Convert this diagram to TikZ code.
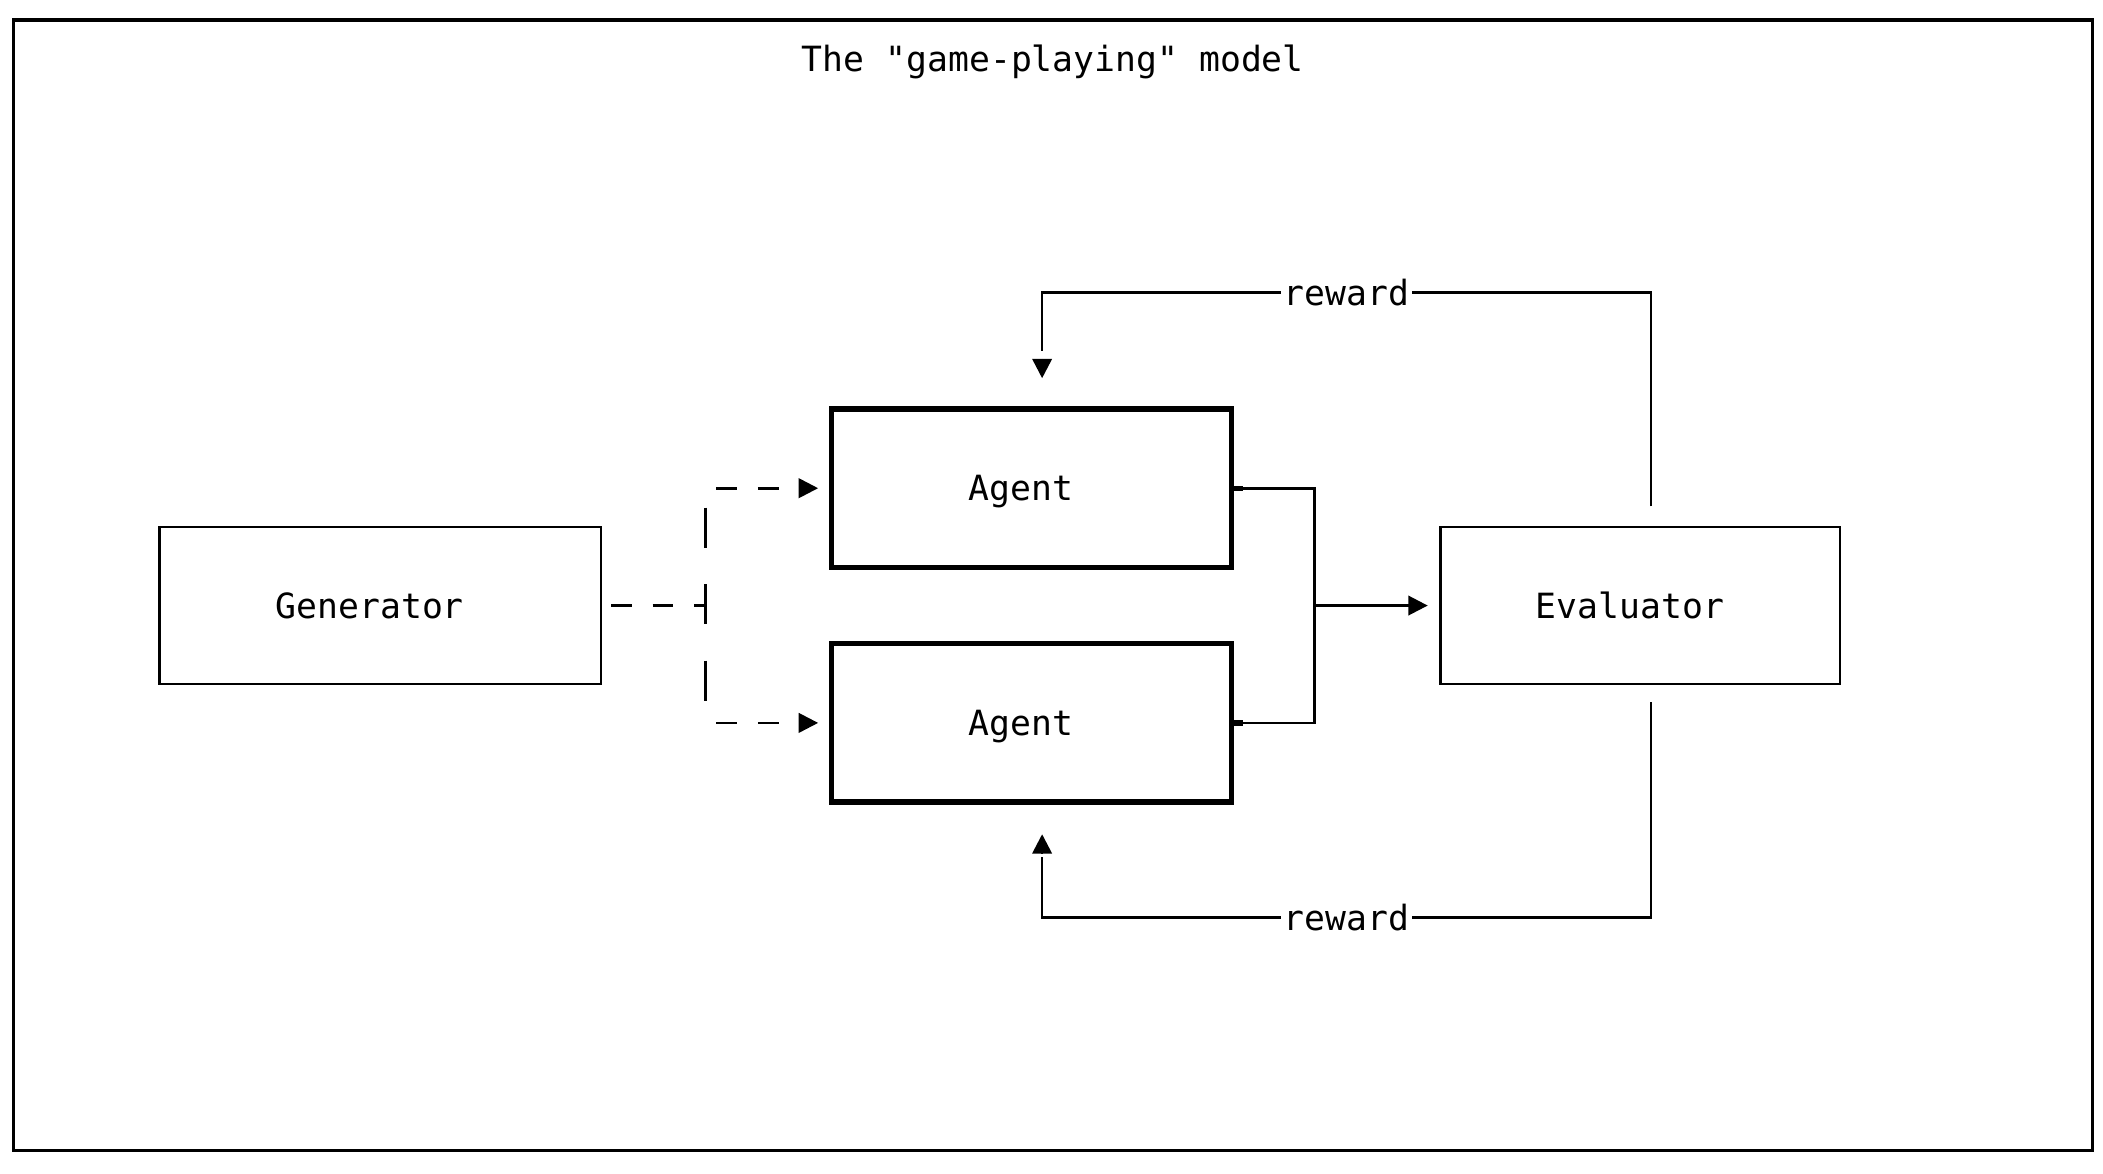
\documentclass[tikz,border=0pt]{standalone}
\usepackage{fontspec}
\setmonofont{DejaVu Sans Mono}
\usetikzlibrary{arrows.meta,calc}
\tikzset{
  txt/.style={font=\ttfamily\fontsize{25.9pt}{30pt}\selectfont, text height=18.9pt, text depth=0pt},
  box/.style={draw, line width=2pt, minimum width=298pt, minimum height=117pt, inner sep=0pt, txt},
  agentbox/.style={box, line width=4pt, minimum height=118pt},
  conn/.style={line width=2pt},
  dashh/.style={conn, dash pattern=on 15.5pt off 15.5pt},
  dashv/.style={conn, dash pattern=on 30pt off 27pt},
  arrowhd/.style={-{Triangle[length=14.5pt,width=14.5pt]}},
  lbl/.style={fill=white, inner xsep=2pt, inner ysep=0pt, txt},
  nub/.style={line width=4pt},
  framebox/.style={draw, line width=2.5pt}
}
\begin{document}
\begin{tikzpicture}[x=1pt,y=-1pt]
\useasboundingbox (0,0) rectangle (1568,874.6);
\draw[framebox] (10,15) rectangle (1560,858);
\node[txt] (title) at (785,43.5) {The "game-playing" model};

\node[box, minimum width=329pt] (gen) at (283.5,451.5) {Generator\phantom{x}};
\node[agentbox] (a1) at (769,364) {Agent\phantom{x}};
\node[agentbox] (a2) at (769,539) {Agent\phantom{x}};
\node[box] (ev) at (1223,451.5) {Evaluator\phantom{x}};

% dashed split from generator
\coordinate (g0) at ($(gen.east)+(6.6,0)$);
\coordinate (j) at (526,451.5);
\coordinate (jt) at (526,378.5);
\coordinate (jb) at (526,522.5);
\coordinate (u0) at (534,364);
\coordinate (l0) at (534,539);
\draw[dashh] (g0) -- (j);
\draw[dashv] (jt) -- (jb);
\draw[dashh, arrowhd] (u0) -- ($(a1.west)+(-8,0)$);
\draw[dashh, arrowhd] (l0) -- ($(a2.west)+(-8,0)$);

% agents to evaluator
\coordinate (m1) at (980,364);
\coordinate (m2) at (980,539);
\coordinate (bus) at (980,451.5);
\draw[conn] (a1.east) -- (m1) -- (m2) -- (a2.east);
\draw[nub] (a1.east) -- ++(7,0);
\draw[nub] (a2.east) -- ++(7,0);
\draw[conn, arrowhd] (bus) -- ($(ev.west)+(-8.5,0)$);

% top reward
\coordinate (rt0) at ($(ev.north)+(8,-14.5)$);
\coordinate (rt1) at (1231,218);
\coordinate (rt2) at (777,218);
\coordinate (rt3) at (777,262);
\coordinate (rt4) at ($(a1.north)+(8,-35.5)$);
\coordinate (rt5) at ($(a1.north)+(8,-21)$);
\draw[conn] (rt0) -- (rt1) -- node[lbl] (rwt) {reward} (rt2) -- (rt3);
\draw[conn, arrowhd] (rt4) -- (rt5);

% bottom reward
\coordinate (rb0) at ($(ev.south)+(8,12.5)$);
\coordinate (rb1) at (1231,684);
\coordinate (rb2) at (777,684);
\coordinate (rb3) at (777,639);
\coordinate (rb4) at ($(a2.south)+(8,36.5)$);
\coordinate (rb5) at ($(a2.south)+(8,22)$);
\draw[conn] (rb0) -- (rb1) -- node[lbl] (rwb) {reward} (rb2) -- (rb3);
\draw[conn, arrowhd] (rb4) -- (rb5);
\end{tikzpicture}
\end{document}
